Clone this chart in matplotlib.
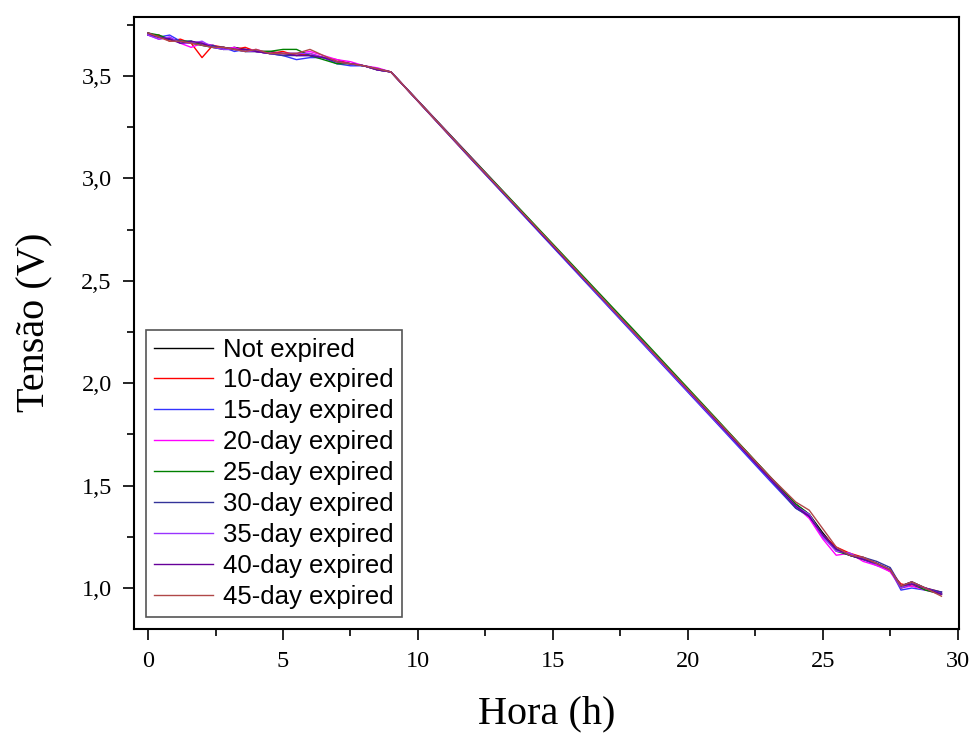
import numpy as np
import matplotlib
matplotlib.use('Agg')
import matplotlib.pyplot as plt
from matplotlib.ticker import MultipleLocator, FuncFormatter

# tempo (h)
hora = [0, 0.4, 0.8, 1.2, 1.6, 2.0, 2.4, 2.8, 3.2, 3.6, 4.0, 4.5, 5.0, 5.5, 6.0, 6.5,
        7.0, 7.5, 8.0, 8.5, 9.0,
        12, 15, 18, 21, 23, 24, 24.5, 25, 25.5, 26, 26.5, 27, 27.5, 27.9, 28.3, 28.8, 29.4]

not_expired = [3.71, 3.69, 3.68, 3.67, 3.66, 3.66, 3.64, 3.63, 3.64, 3.63, 3.62, 3.62, 3.61, 3.61, 3.60, 3.59,
               3.57, 3.56, 3.55, 3.535, 3.52,
               3.095, 2.675, 2.25, 1.83, 1.55, 1.41, 1.36, 1.27, 1.19, 1.16, 1.14, 1.12, 1.09, 1.01, 1.03, 1.00, 0.97]
exp10 = [3.70, 3.70, 3.67, 3.68, 3.66, 3.59, 3.65, 3.64, 3.63, 3.64, 3.62, 3.61, 3.62, 3.60, 3.61, 3.59,
         3.58, 3.56, 3.55, 3.53, 3.52,
         3.09, 2.67, 2.245, 1.82, 1.54, 1.40, 1.35, 1.26, 1.20, 1.17, 1.15, 1.12, 1.08, 1.02, 1.01, 1.00, 0.98]
exp15 = [3.70, 3.69, 3.70, 3.67, 3.67, 3.65, 3.64, 3.64, 3.62, 3.63, 3.62, 3.61, 3.60, 3.58, 3.59, 3.59,
         3.56, 3.55, 3.55, 3.53, 3.52,
         3.09, 2.665, 2.24, 1.815, 1.53, 1.39, 1.35, 1.25, 1.19, 1.16, 1.14, 1.11, 1.09, 0.99, 1.00, 0.99, 0.98]
exp20 = [3.70, 3.68, 3.69, 3.66, 3.64, 3.66, 3.65, 3.63, 3.64, 3.62, 3.63, 3.61, 3.61, 3.61, 3.62, 3.60,
         3.58, 3.57, 3.55, 3.54, 3.52,
         3.10, 2.675, 2.25, 1.825, 1.54, 1.40, 1.34, 1.24, 1.16, 1.17, 1.13, 1.11, 1.08, 1.00, 1.01, 0.99, 0.97]
exp25 = [3.71, 3.70, 3.68, 3.67, 3.67, 3.65, 3.64, 3.64, 3.63, 3.62, 3.62, 3.62, 3.63, 3.63, 3.60, 3.58,
         3.56, 3.56, 3.55, 3.53, 3.52,
         3.10, 2.68, 2.26, 1.835, 1.55, 1.41, 1.36, 1.26, 1.18, 1.16, 1.14, 1.12, 1.09, 1.00, 1.02, 0.99, 0.97]
exp30 = [3.70, 3.69, 3.68, 3.67, 3.66, 3.65, 3.65, 3.63, 3.63, 3.62, 3.62, 3.61, 3.60, 3.60, 3.60, 3.59,
         3.57, 3.56, 3.55, 3.535, 3.52,
         3.095, 2.67, 2.245, 1.82, 1.54, 1.39, 1.35, 1.26, 1.19, 1.16, 1.15, 1.13, 1.10, 1.01, 1.03, 1.00, 0.98]
exp35 = [3.70, 3.68, 3.69, 3.66, 3.66, 3.67, 3.64, 3.63, 3.63, 3.62, 3.62, 3.61, 3.61, 3.61, 3.61, 3.59,
         3.57, 3.56, 3.55, 3.53, 3.52,
         3.095, 2.67, 2.245, 1.82, 1.54, 1.40, 1.36, 1.25, 1.18, 1.17, 1.14, 1.12, 1.09, 1.00, 1.02, 1.00, 0.97]
exp40 = [3.71, 3.69, 3.68, 3.66, 3.67, 3.66, 3.64, 3.64, 3.63, 3.63, 3.62, 3.61, 3.61, 3.60, 3.60, 3.59,
         3.57, 3.56, 3.55, 3.53, 3.52,
         3.095, 2.67, 2.25, 1.825, 1.54, 1.40, 1.35, 1.26, 1.19, 1.16, 1.14, 1.12, 1.09, 1.01, 1.02, 1.00, 0.97]
exp45 = [3.71, 3.69, 3.67, 3.67, 3.66, 3.65, 3.64, 3.64, 3.63, 3.62, 3.63, 3.61, 3.61, 3.61, 3.63, 3.60,
         3.57, 3.56, 3.55, 3.535, 3.52,
         3.095, 2.675, 2.25, 1.83, 1.55, 1.42, 1.38, 1.29, 1.20, 1.16, 1.15, 1.12, 1.09, 1.01, 1.03, 1.00, 0.96]

series = [not_expired, exp10, exp15, exp20, exp25, exp30, exp35, exp40, exp45]
labels = ['Not expired', '10-day expired', '15-day expired', '20-day expired', '25-day expired',
          '30-day expired', '35-day expired', '40-day expired', '45-day expired']
cores = ['#000000', '#ff0000', '#3333ff', '#ff00ff', '#008000', '#333399', '#9933ff', '#660099', '#b04848']

fig = plt.figure(figsize=(9.74, 7.36), dpi=100)
ax = fig.add_axes([0.1376, 0.1454, 0.847, 0.832])

for y, lab, c in zip(series, labels, cores):
    ax.plot(hora, y, color=c, lw=1.0, label=lab)

ax.set_xlim(-0.52, 30.05)
ax.set_ylim(0.80, 3.79)

ax.xaxis.set_major_locator(MultipleLocator(5))
ax.xaxis.set_minor_locator(MultipleLocator(2.5))
ax.yaxis.set_major_locator(MultipleLocator(0.5))
ax.yaxis.set_minor_locator(MultipleLocator(0.25))
ax.yaxis.set_major_formatter(FuncFormatter(lambda v, p: f'{v:.1f}'.replace('.', ',')))

ax.tick_params(which='major', direction='out', length=8, width=1.2, labelsize=17.5, pad=8)
ax.tick_params(which='minor', direction='out', length=5, width=1.2)
for lab in ax.get_xticklabels() + ax.get_yticklabels():
    lab.set_fontfamily('Liberation Serif')
for s in ax.spines.values():
    s.set_linewidth(1.5)

ax.set_xlabel('Hora (h)', fontsize=29, fontfamily='Liberation Serif', labelpad=17)
ax.set_ylabel('Tensão (V)', fontsize=29, fontfamily='Liberation Serif', labelpad=20)

leg = ax.legend(loc='lower left', bbox_to_anchor=(0.015, 0.02), fancybox=False, edgecolor='#555555',
                prop={'family': 'Liberation Sans', 'size': 18.5}, handlelength=2.3, labelspacing=0.27,
                borderpad=0.3, handletextpad=0.4, framealpha=1, borderaxespad=0)
leg.get_frame().set_linewidth(1.2)

fig.savefig('out.png', dpi=100)
